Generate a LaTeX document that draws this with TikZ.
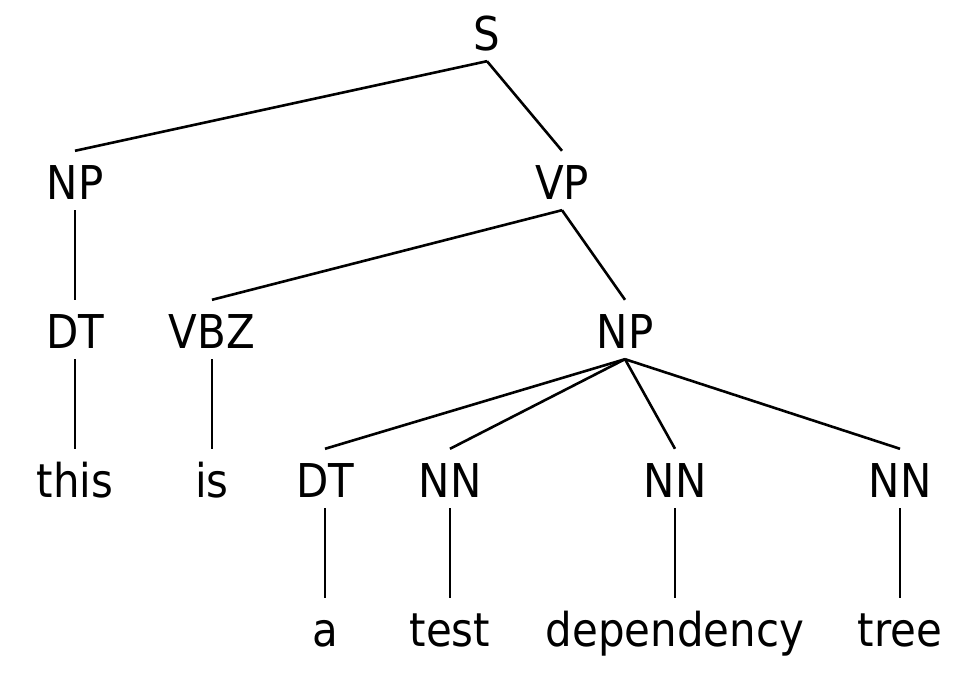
\documentclass[tikz,border=0pt]{standalone}
\usepackage{fontspec}
\setmainfont[FakeStretch=0.9]{DejaVu Sans}
\begin{document}
\begin{tikzpicture}[x=1pt,y=1pt,
  lbl/.style={anchor=base,inner sep=0pt,text height=49pt,text depth=10pt,font=\fontsize{46.6}{50}\selectfont},
  edge/.style={line width=2.6pt}]
\useasboundingbox (0,0) rectangle (975,675);
% rows: baselines (image y) 51,200,349,498,647
\node[lbl] (S) at (487,675-51) {S};
\node[lbl] (NP1) at (75,675-200) {NP};
\node[lbl] (VP) at (562,675-200) {VP};
\node[lbl] (DT1) at (75,675-349) {DT};
\node[lbl] (VBZ) at (212,675-349) {VBZ};
\node[lbl] (NP2) at (625,675-349) {NP};
\node[lbl] (this) at (75,675-498) {this};
\node[lbl] (is) at (212,675-498) {is};
\node[lbl] (DT2) at (325,675-498) {DT};
\node[lbl] (NN1) at (450,675-498) {NN};
\node[lbl] (NN2) at (675,675-498) {NN};
\node[lbl] (NN3) at (900,675-498) {NN};
\node[lbl] (a) at (325,675-647) {a};
\node[lbl] (test) at (450,675-647) {test};
\node[lbl] (dep) at (675,675-647) {dependency};
\node[lbl] (tree) at (900,675-647) {tree};
\draw[edge] (S.south) -- (NP1.north);
\draw[edge] (S.south) -- (VP.north);
\draw[edge] (NP1.south) -- (DT1.north);
\draw[edge] (VP.south) -- (VBZ.north);
\draw[edge] (VP.south) -- (NP2.north);
\draw[edge] (DT1.south) -- (this.north);
\draw[edge] (VBZ.south) -- (is.north);
\draw[edge] (NP2.south) -- (DT2.north);
\draw[edge] (NP2.south) -- (NN1.north);
\draw[edge] (NP2.south) -- (NN2.north);
\draw[edge] (NP2.south) -- (NN3.north);
\draw[edge] (DT2.south) -- (a.north);
\draw[edge] (NN1.south) -- (test.north);
\draw[edge] (NN2.south) -- (dep.north);
\draw[edge] (NN3.south) -- (tree.north);
\end{tikzpicture}
\end{document}
